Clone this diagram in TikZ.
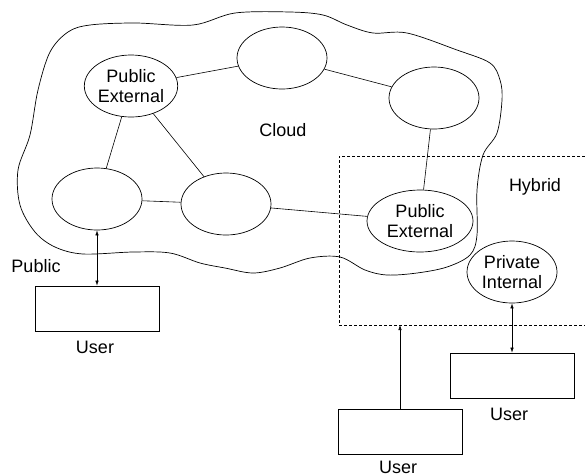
\documentclass[tikz,border=0pt]{standalone}
\usepackage{fontspec}
\setmainfont{Liberation Sans}
\usetikzlibrary{shapes.geometric,arrows.meta}
\begin{document}
\begin{tikzpicture}[x=1pt,y=-1pt,
  every node/.style={font=\fontsize{18}{20.5}\selectfont},
  cell/.style={draw,ellipse,line width=0.7pt,minimum width=90pt,minimum height=62pt,inner sep=0pt,align=center},
  userbox/.style={draw,line width=0.7pt,minimum width=124pt,minimum height=45pt,inner sep=0pt},
  link/.style={line width=0.6pt},
  dbl/.style={line width=0.6pt,{Latex[length=5pt,width=3.5pt]}-{Latex[length=5pt,width=3.5pt]}},
  sgl/.style={line width=0.6pt,-{Latex[length=5pt,width=3.5pt]}},
  hyb/.style={line width=0.6pt,dash pattern=on 3pt off 2pt}]
\useasboundingbox (0,0) rectangle (585,475);
% cloud outline
\draw[line width=0.7pt] plot[smooth cycle,tension=0.55] coordinates {
(20,205) (18,170) (30,135) (38,90) (50,52) (68,32) (90,25) (135,23) (193,25) (235,13) (290,12) (323,15) (347,25) (373,33) (407,33) (457,50) (490,63) (500,80) (502,100) (497,133) (483,155) (477,190) (477,235) (470,255) (447,267) (417,273) (387,275) (365,270) (340,257) (310,258) (280,268) (253,273) (225,268) (200,263) (170,253) (133,252) (83,254) (55,247) (35,232)};
% hybrid dashed region
\coordinate (h1) at (585,156);
\coordinate (h2) at (339,156);
\coordinate (h3) at (339,325);
\coordinate (h4) at (585,325);
\coordinate (hin) at (400,325);
\draw[hyb] (h1) -- (h2) -- (h3) -- (h4);
% ellipses
\node[cell] (pe1) at (131,86) {Public\\External};
\node[cell] (top) at (282,58) {};
\node[cell] (rt) at (434,98) {};
\node[cell] (lm) at (97,199) {};
\node[cell] (md) at (226,204) {};
\node[cell,minimum width=106pt] (pe2) at (420,221) {Public\\External};
\node[cell] (pi) at (512,272) {Private\\Internal};
% boxes
\node[userbox] (u1) at (97,308.5) {};
\node[userbox] (u2) at (400,431.5) {};
\node[userbox] (u3) at (512,375.5) {};
% labels
\node (cloud) at (283,130) {Cloud};
\node (hybrid) at (535,187) {Hybrid};
\node (public) at (36,266) {Public};
\node (l1) at (95,347) {User};
\node (l2) at (398,467) {User};
\node (l3) at (509,414) {User};
% links
\draw[link] (pe1) -- (top);
\draw[link] (pe1) -- (lm);
\draw[link] (pe1) -- (md);
\draw[link] (top) -- (rt);
\draw[link] (rt) -- (pe2);
\draw[link] (lm) -- (md);
\draw[link] (md) -- (pe2);
% arrows
\draw[dbl] (lm) -- (u1);
\draw[dbl] (pi) -- (u3);
\draw[sgl] (u2) -- (hin);
\end{tikzpicture}
\end{document}
